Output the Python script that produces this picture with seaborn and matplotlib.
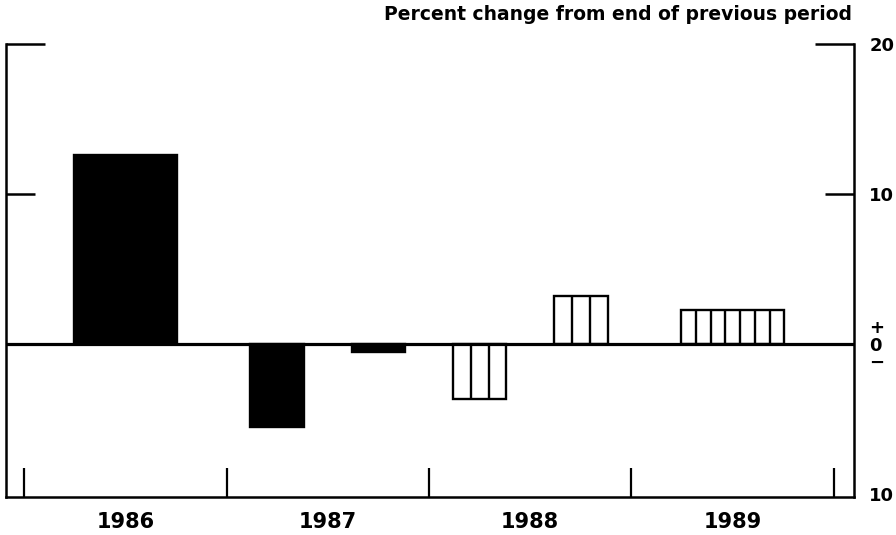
import numpy as np
import pandas as pd
import matplotlib
matplotlib.use("Agg")
import matplotlib.pyplot as plt
import seaborn as sns

# data (percent change from end of previous period)
periods = ["1986", "1987 H1", "1987 H2", "1988 H1", "1988 H2", "1989"]
midpoints = [1986.5, 1987.25, 1987.75, 1988.25, 1988.75, 1989.5]
change = [12.6, -5.55, -0.55, -3.65, 3.2, 2.3]
kind = ["solid", "solid", "solid", "hatched", "hatched", "hatched"]
annual = [True, False, False, False, False, True]
hatch_cells = [0, 0, 0, 3, 3, 7]

years = [1986, 1987, 1988, 1989, 1990]
year_labels = ["1986", "1987", "1988", "1989"]
title = "Percent change from end of previous period"

df = pd.DataFrame({"period": periods, "mid": midpoints, "change": change,
                   "kind": kind, "annual": annual, "cells": hatch_cells})

sns.set_style("white")
plt.rcParams["font.family"] = ["DejaVu Sans"]
plt.rcParams["font.weight"] = "bold"
plt.rcParams["text.color"] = "black"
plt.rcParams["xtick.color"] = "black"
plt.rcParams["ytick.color"] = "black"

fig = plt.figure(figsize=(8.96, 5.35), dpi=100)
ax = fig.add_axes([6 / 896, 38 / 535, 848 / 896, 453 / 535])

pal = {"solid": "black", "hatched": "white"}
W_ANNUAL, W_HALF = 0.51, 0.265

ann = df[df["annual"]]
half = df[~df["annual"]]
sns.barplot(data=ann, x="mid", y="change", hue="kind", palette=pal,
            native_scale=True, width=W_ANNUAL / np.diff(ann["mid"]).min(),
            edgecolor="black", linewidth=1.7, errorbar=None, legend=False,
            ax=ax, zorder=3)
sns.barplot(data=half, x="mid", y="change", hue="kind", palette=pal,
            native_scale=True, width=W_HALF / np.diff(half["mid"]).min(),
            edgecolor="black", linewidth=1.7, errorbar=None, legend=False,
            ax=ax, zorder=3)

# vertical stripes inside the hatched bars
for _, r in df[df["cells"] > 0].iterrows():
    w = W_ANNUAL if r["annual"] else W_HALF
    left = r["mid"] - w / 2
    xs = [left + k * w / r["cells"] for k in range(1, r["cells"])]
    ax.vlines(xs, 0, r["change"], color="black", lw=1.7, zorder=4)

ax.axhline(0, color="black", lw=2.3, zorder=5)

ax.set_xlim(1985.911, 1990.099)
ax.set_ylim(-10.2, 20)

for s in ["left", "right", "bottom"]:
    ax.spines[s].set_visible(True)
    ax.spines[s].set_linewidth(1.8)
    ax.spines[s].set_color("black")
ax.spines["top"].set_visible(False)

# x: year boundaries as ticks, year names centred between
ax.set_xticks(years)
ax.set_xticklabels([])
ax.set_xticks([y + 0.5 for y in years[:-1]], minor=True)
ax.set_xticklabels(year_labels, minor=True, fontsize=15, fontweight="bold")
ax.tick_params(axis="x", which="major", direction="in", length=21, width=1.6,
               color="black", bottom=True)
ax.tick_params(axis="x", which="minor", length=0, pad=11)
ax.set_xlabel("")

# y: labels on the right only
ax.set_yticks([-10, 0, 10, 20])
ax.set_yticklabels(["10", "+\n0\n\u2212", "10", "20"], fontsize=13,
                   fontweight="bold")
ax.tick_params(axis="y", which="major", direction="in", length=21, width=1.8,
               color="black", left=True, right=True, labelleft=False,
               labelright=True, pad=11)
ax.set_ylabel("")
for t, v in zip(ax.yaxis.get_major_ticks(), [-10, 0, 10, 20]):
    if v <= 0:
        t.tick1line.set_visible(False)
        t.tick2line.set_visible(False)
    elif v == 20:
        t.tick1line.set_markersize(28)
        t.tick2line.set_markersize(28)
lab0 = ax.get_yticklabels()[1]
lab0.set_linespacing(0.95)

fig.text(852 / 896, 1 - 15 / 535, title, ha="right", va="center",
         fontsize=13.5, fontweight="bold")

fig.savefig("out.png", dpi=100)
